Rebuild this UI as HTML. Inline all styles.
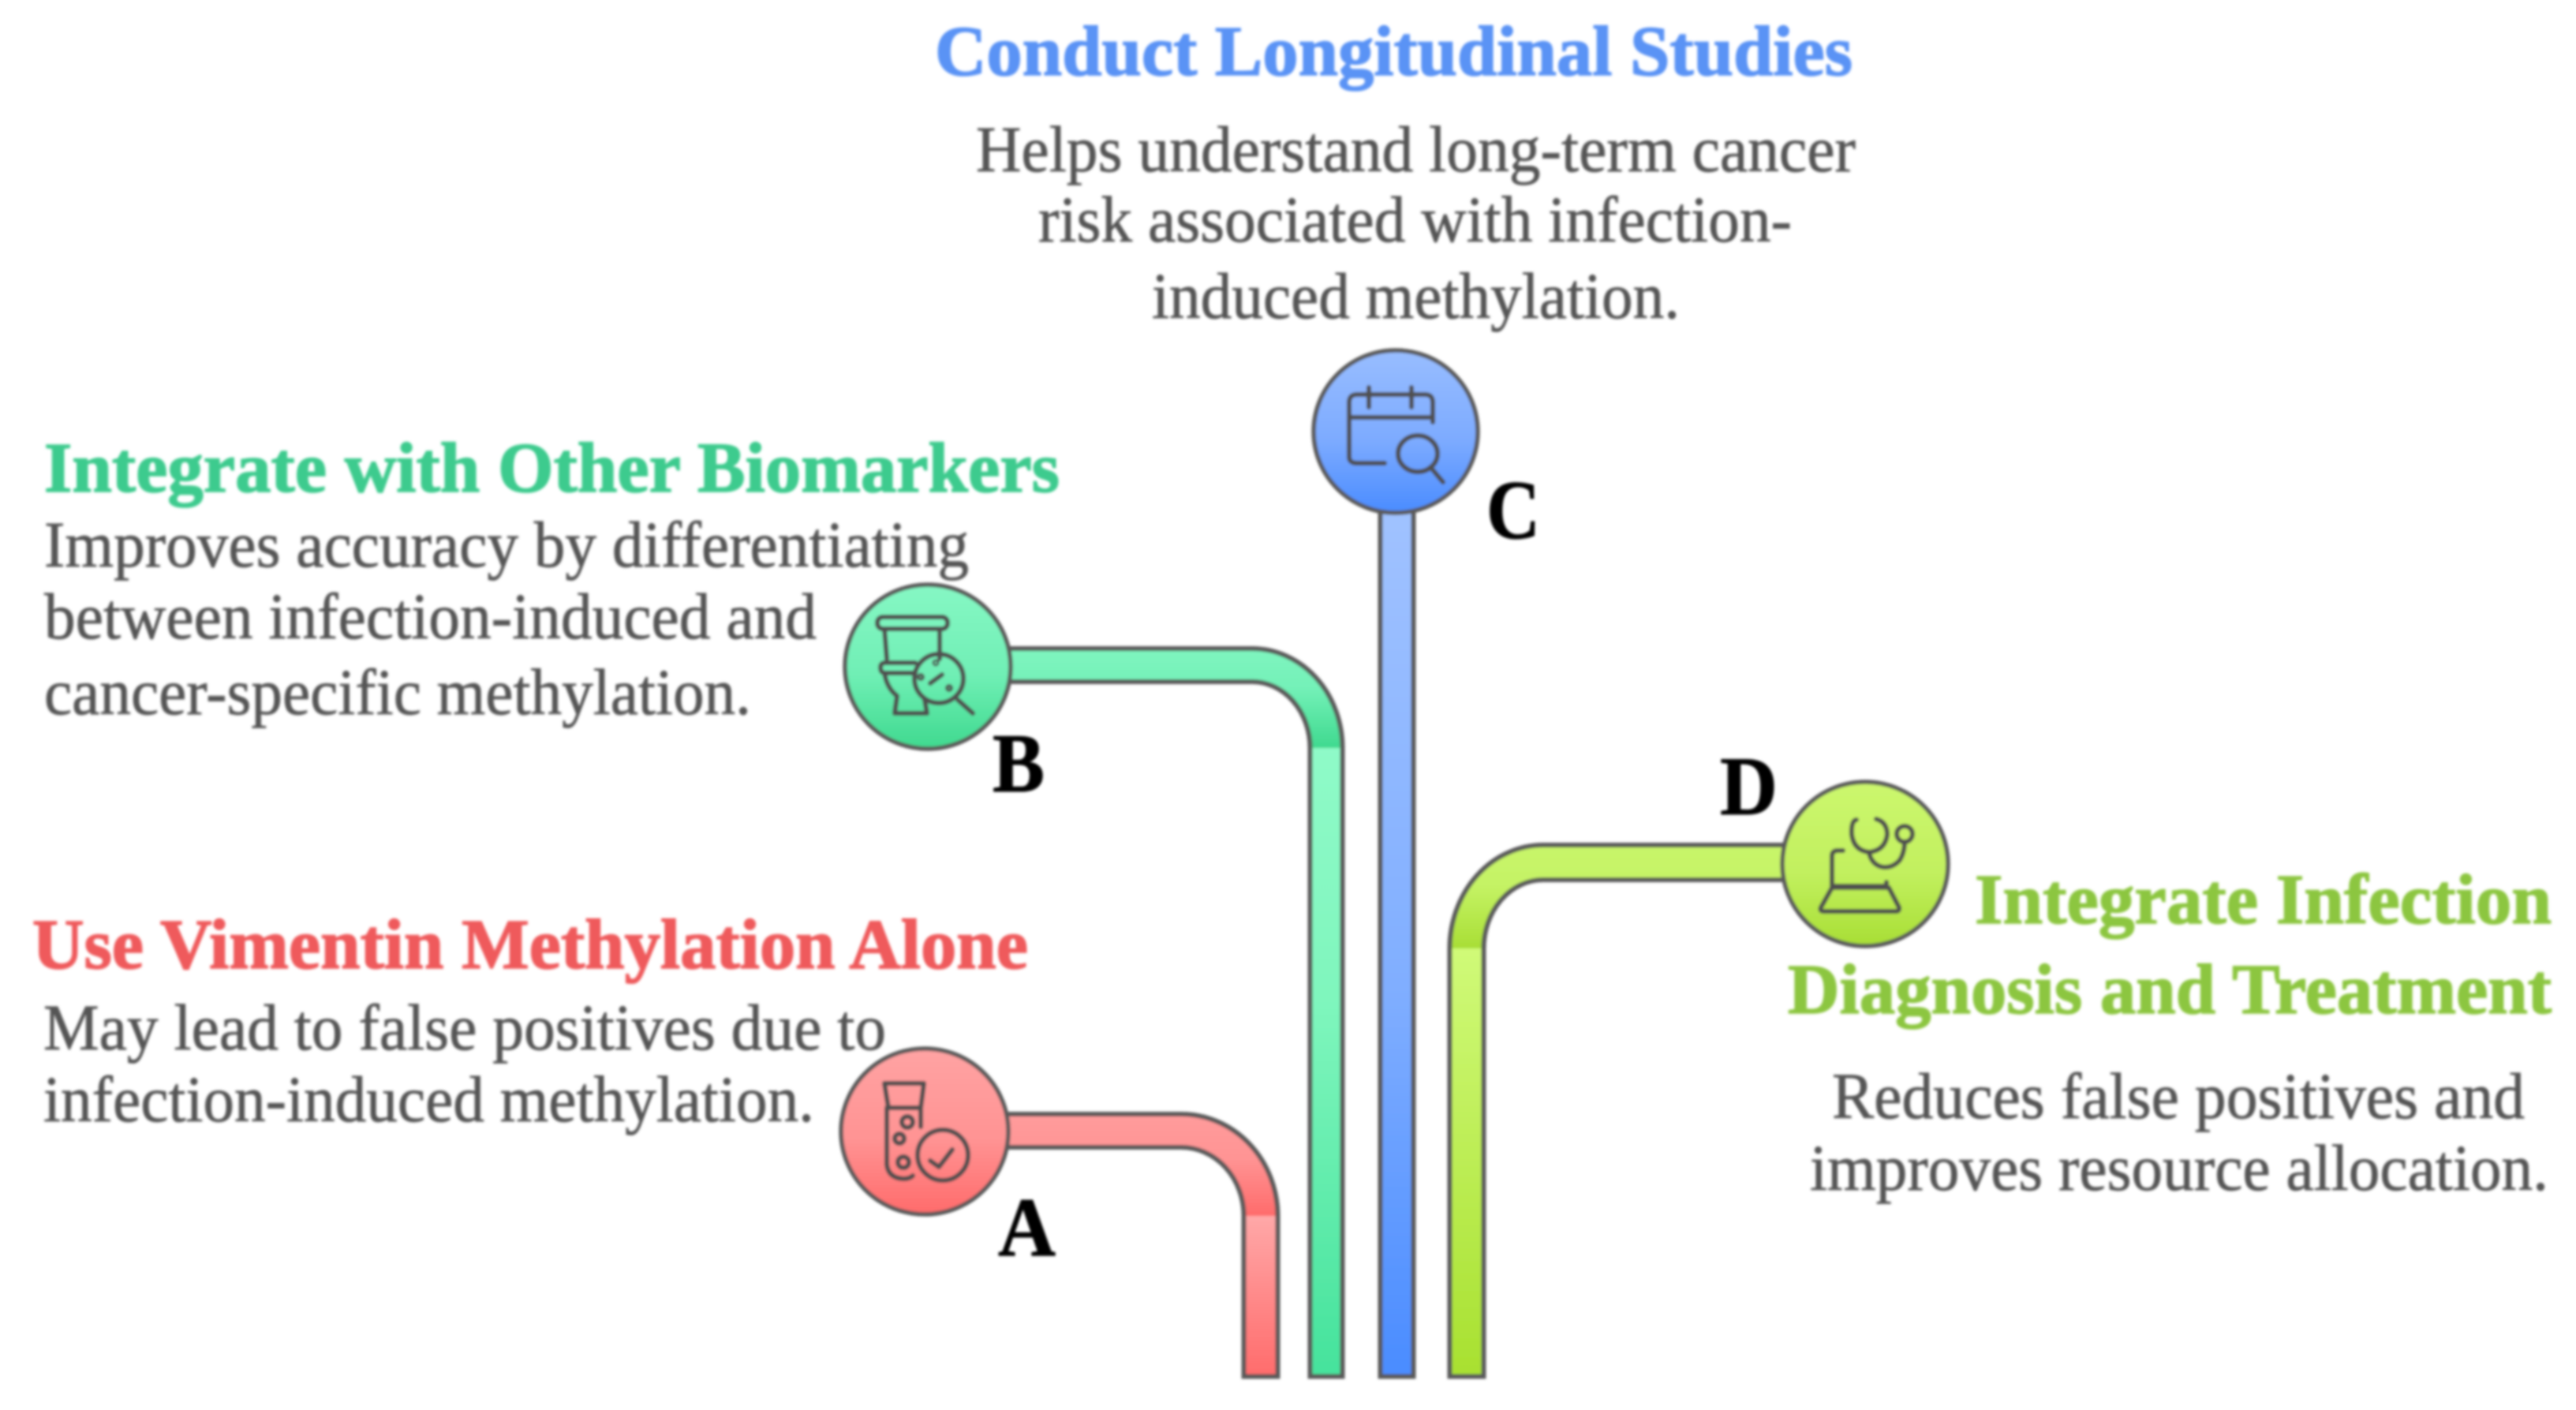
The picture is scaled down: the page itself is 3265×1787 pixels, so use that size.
<!DOCTYPE html>
<html lang="en">
<head>
<meta charset="utf-8">
<title>Vimentin methylation strategies</title>
<style>
html,body{margin:0;padding:0;background:#fff;width:3265px;height:1787px;overflow:hidden}
svg{display:block}
text{font-family:"Liberation Serif",serif}
.t{font-weight:700;font-size:90px;stroke-width:1.6px}
.b{font-size:83px;fill:#555;stroke:#555;stroke-width:.8px}
.l{font-weight:700;font-size:106px;fill:#000;stroke:#000;stroke-width:1px}
.e{fill:none;stroke:#5a5a5a;stroke-width:6}
.i{fill:none;stroke:#505050;stroke-width:6;stroke-linecap:round;stroke-linejoin:round}
.c{stroke:#5a5a5a;stroke-width:5.5}
</style>
</head>
<body>
<svg xmlns="http://www.w3.org/2000/svg" width="3265" height="1787" viewBox="0 0 3265 1787">
<defs>
<filter id="soft" filterUnits="userSpaceOnUse" x="0" y="0" width="3265" height="1787"><feGaussianBlur stdDeviation="1.6"/></filter>
<linearGradient id="aC" x1="0" y1="0" x2="0" y2="1"><stop offset="0" stop-color="#ffa3a3"/><stop offset=".55" stop-color="#ff9393"/><stop offset="1" stop-color="#ff6b6b"/></linearGradient>
<linearGradient id="aE" gradientUnits="userSpaceOnUse" x1="0" y1="1408" x2="0" y2="1541"><stop offset="0" stop-color="#ff9c9c"/><stop offset=".45" stop-color="#ff9494"/><stop offset="1" stop-color="#ff6b6b"/></linearGradient>
<linearGradient id="aV" gradientUnits="userSpaceOnUse" x1="0" y1="1541" x2="0" y2="1747"><stop offset="0" stop-color="#ffa8a8"/><stop offset="1" stop-color="#ff6b6b"/></linearGradient>
<linearGradient id="bC" x1="0" y1="0" x2="0" y2="1"><stop offset="0" stop-color="#86f7c4"/><stop offset=".55" stop-color="#70efb5"/><stop offset="1" stop-color="#3fd98f"/></linearGradient>
<linearGradient id="bE" gradientUnits="userSpaceOnUse" x1="0" y1="820" x2="0" y2="948"><stop offset="0" stop-color="#7ff5bf"/><stop offset=".4" stop-color="#74f1b8"/><stop offset="1" stop-color="#3fd98f"/></linearGradient>
<linearGradient id="bV" gradientUnits="userSpaceOnUse" x1="0" y1="948" x2="0" y2="1747"><stop offset="0" stop-color="#8ffac8"/><stop offset=".4" stop-color="#7ff6bd"/><stop offset="1" stop-color="#45e29c"/></linearGradient>
<linearGradient id="cC" x1="0" y1="0" x2="0" y2="1"><stop offset="0" stop-color="#98bdff"/><stop offset=".55" stop-color="#7dabff"/><stop offset="1" stop-color="#4a8cff"/></linearGradient>
<linearGradient id="cV" gradientUnits="userSpaceOnUse" x1="0" y1="650" x2="0" y2="1747"><stop offset="0" stop-color="#a0c2ff"/><stop offset=".55" stop-color="#80aeff"/><stop offset="1" stop-color="#4a8cff"/></linearGradient>
<linearGradient id="dC" x1="0" y1="0" x2="0" y2="1"><stop offset="0" stop-color="#ccf76e"/><stop offset=".55" stop-color="#c2f05f"/><stop offset="1" stop-color="#a8de35"/></linearGradient>
<linearGradient id="dE" gradientUnits="userSpaceOnUse" x1="0" y1="1068" x2="0" y2="1202"><stop offset="0" stop-color="#c8f56a"/><stop offset=".4" stop-color="#c5f365"/><stop offset="1" stop-color="#a8de35"/></linearGradient>
<linearGradient id="dV" gradientUnits="userSpaceOnUse" x1="0" y1="1202" x2="0" y2="1747"><stop offset="0" stop-color="#d0fa78"/><stop offset="1" stop-color="#a8e030"/></linearGradient>
</defs>
<rect width="3265" height="1787" fill="#fff"/>
<g filter="url(#soft)">

<!-- Pipe A -->
<path d="M1250,1412 L1497,1412 A122.5 129 0 0 1 1619.5,1541 L1576.5,1541 A79.5 87 0 0 0 1497,1454 L1250,1454 Z" fill="url(#aE)"/>
<rect x="1576.5" y="1541" width="43" height="203.5" fill="url(#aV)"/>
<path class="e" d="M1250,1412 L1497,1412 A122.5 129 0 0 1 1619.5,1541 L1619.5,1744.5 L1576.5,1744.5 L1576.5,1541 A79.5 87 0 0 0 1497,1454 L1250,1454"/>

<!-- Pipe B -->
<path d="M1250,822 L1587,822 A114.5 126 0 0 1 1701.5,948 L1660.5,948 A73.5 84 0 0 0 1587,864 L1250,864 Z" fill="url(#bE)"/>
<rect x="1660.5" y="948" width="41" height="796.5" fill="url(#bV)"/>
<path class="e" d="M1250,822 L1587,822 A114.5 126 0 0 1 1701.5,948 L1701.5,1744.5 L1660.5,1744.5 L1660.5,948 A73.5 84 0 0 0 1587,864 L1250,864"/>

<!-- Pipe C -->
<rect class="e" x="1749.5" y="640" width="42" height="1104.5" style="fill:url(#cV)"/>

<!-- Pipe D -->
<path d="M2300,1071 L1956,1071 A118.5 131 0 0 0 1837.5,1202 L1880.5,1202 A75.5 87 0 0 1 1956,1115 L2300,1115 Z" fill="url(#dE)"/>
<rect x="1837.5" y="1202" width="43" height="542.5" fill="url(#dV)"/>
<path class="e" d="M2300,1071 L1956,1071 A118.5 131 0 0 0 1837.5,1202 L1837.5,1744.5 L1880.5,1744.5 L1880.5,1202 A75.5 87 0 0 1 1956,1115 L2300,1115"/>

<!-- Circles -->
<ellipse class="c" cx="1172" cy="1434" rx="106" ry="105" fill="url(#aC)"/>
<ellipse class="c" cx="1176" cy="845" rx="105" ry="104" fill="url(#bC)"/>
<ellipse class="c" cx="1769" cy="547" rx="104" ry="103" fill="url(#cC)"/>
<ellipse class="c" cx="2364" cy="1095" rx="105" ry="104" fill="url(#dC)"/>

<!-- Icon A: test tube with check -->
<g class="i">
<path d="M1121,1373 L1171,1373 L1167,1404 L1126,1404 Z"/>
<path d="M1124,1404 L1124,1476 Q1126,1493 1145,1494 Q1153,1494 1157,1490"/>
<path d="M1167,1404 L1167,1428"/>
<circle cx="1150" cy="1422" r="7"/>
<circle cx="1140" cy="1443" r="6"/>
<circle cx="1145" cy="1473" r="7"/>
<circle cx="1195" cy="1464" r="32"/>
<path d="M1179,1471 L1190,1479 L1207,1457"/>
</g>

<!-- Icon B: toilet with magnifier -->
<g class="i">
<rect x="1112" y="782" width="89" height="15" rx="7"/>
<path d="M1121,797 L1124,835 M1191,797 L1191,835"/>
<path d="M1160,840 L1122,840 Q1116,840 1116,846 Q1116,853 1122,853 L1160,853"/>
<path d="M1121,853 Q1124,872 1137,882 L1134,904 L1175,904 L1172,887"/>
<circle cx="1190" cy="860" r="31"/>
<path d="M1214,887 L1233,904"/>
<circle cx="1186" cy="840" r="1.5"/>
<circle cx="1167" cy="858" r="2"/>
<circle cx="1203" cy="872" r="2"/>
<path d="M1179,866 L1194,855"/>
</g>

<!-- Icon C: calendar with magnifier -->
<g class="i">
<path d="M1816,535 L1816,510 Q1816,500 1806,500 L1720,500 Q1710,500 1710,510 L1710,579 Q1710,587 1720,587 L1755,587"/>
<path d="M1710,529 L1816,529"/>
<path d="M1735,491 L1735,516 M1789,491 L1789,516"/>
<ellipse cx="1797" cy="575" rx="25" ry="23"/>
<path d="M1813,592 L1829,611"/>
</g>

<!-- Icon D: stethoscope and machine -->
<g class="i">
<path d="M2353,1039 Q2346,1040 2347,1058 Q2350,1078 2369,1080 Q2389,1078 2392,1058 Q2392,1042 2378,1038"/>
<path d="M2369,1080 C2372,1100 2394,1106 2408,1090 Q2414,1080 2414,1067"/>
<circle cx="2414" cy="1057" r="10"/>
<path d="M2336,1078 L2329,1078 Q2322,1078 2322,1085 L2322,1125"/>
<path d="M2322,1123 L2391,1123 L2391,1118"/>
<path d="M2322,1125 L2394,1125 L2407,1150 Q2408,1155 2403,1155 L2312,1155 Q2306,1155 2308,1150 Z"/>
</g>

<!-- Titles -->
<text class="t" x="1185" y="95" fill="#5a93f5" stroke="#5a93f5" textLength="1163" lengthAdjust="spacingAndGlyphs">Conduct Longitudinal Studies</text>
<text class="t" x="56" y="623" fill="#3ecb8e" stroke="#3ecb8e" textLength="1287" lengthAdjust="spacingAndGlyphs">Integrate with Other Biomarkers</text>
<text class="t" x="41" y="1227" fill="#ef5a5c" stroke="#ef5a5c" textLength="1262" lengthAdjust="spacingAndGlyphs">Use Vimentin Methylation Alone</text>
<text class="t" x="2503" y="1170" fill="#8cc63f" stroke="#8cc63f" textLength="731" lengthAdjust="spacingAndGlyphs">Integrate Infection</text>
<text class="t" x="2266" y="1284" fill="#8cc63f" stroke="#8cc63f" textLength="968" lengthAdjust="spacingAndGlyphs">Diagnosis and Treatment</text>

<!-- Body text -->
<text class="b" x="1237" y="217" textLength="1115" lengthAdjust="spacingAndGlyphs">Helps understand long-term cancer</text>
<text class="b" x="1316" y="306" textLength="955" lengthAdjust="spacingAndGlyphs">risk associated with infection-</text>
<text class="b" x="1460" y="403" textLength="669" lengthAdjust="spacingAndGlyphs">induced methylation.</text>

<text class="b" x="56" y="718" textLength="1172" lengthAdjust="spacingAndGlyphs">Improves accuracy by differentiating</text>
<text class="b" x="56" y="809" textLength="979" lengthAdjust="spacingAndGlyphs">between infection-induced and</text>
<text class="b" x="56" y="905" textLength="896" lengthAdjust="spacingAndGlyphs">cancer-specific methylation.</text>

<text class="b" x="55" y="1330" textLength="1068" lengthAdjust="spacingAndGlyphs">May lead to false positives due to</text>
<text class="b" x="55" y="1421" textLength="977" lengthAdjust="spacingAndGlyphs">infection-induced methylation.</text>

<text class="b" x="2322" y="1417" textLength="878" lengthAdjust="spacingAndGlyphs">Reduces false positives and</text>
<text class="b" x="2294" y="1508" textLength="936" lengthAdjust="spacingAndGlyphs">improves resource allocation.</text>

<!-- Letters -->
<text class="l" x="1265" y="1591" textLength="73" lengthAdjust="spacingAndGlyphs">A</text>
<text class="l" x="1258" y="1003" textLength="66" lengthAdjust="spacingAndGlyphs">B</text>
<text class="l" x="1884" y="682" textLength="68" lengthAdjust="spacingAndGlyphs">C</text>
<text class="l" x="2180" y="1032" textLength="73" lengthAdjust="spacingAndGlyphs">D</text>
</g>
</svg>
</body>
</html>
